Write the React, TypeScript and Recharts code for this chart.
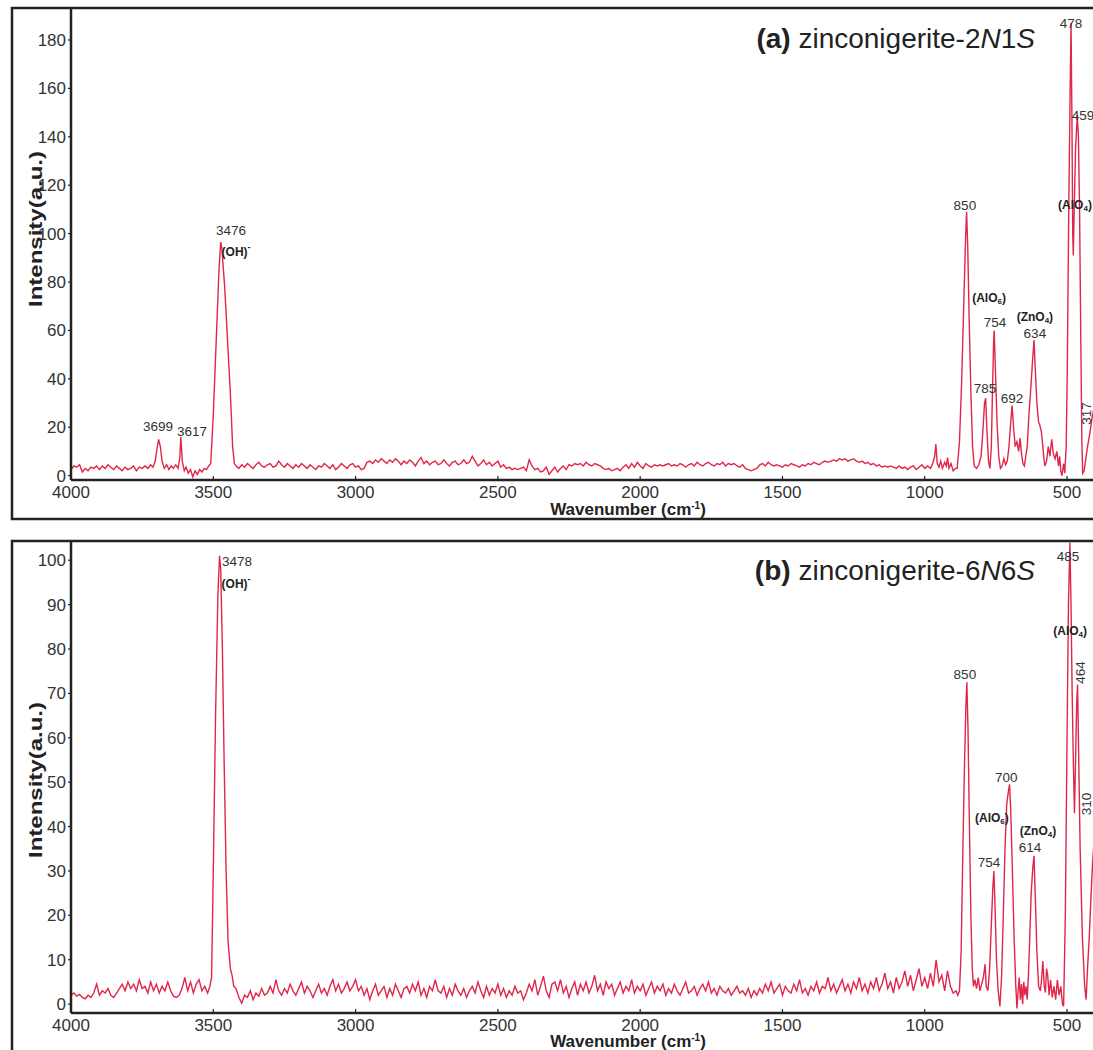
import React from "react";
import { LineChart, Line, XAxis, YAxis, ReferenceDot } from "recharts";

const LINE = "#e0264b";
const INK = "#222";
const FONT = '"Liberation Sans", Arial, sans-serif';

const X_TICKS = [4000, 3500, 3000, 2500, 2000, 1500, 1000, 500];
const Y_TICKS_A = [0, 20, 40, 60, 80, 100, 120, 140, 160, 180];
const Y_TICKS_B = [0, 10, 20, 30, 40, 50, 60, 70, 80, 90, 100];

type Pt = [number, number];

// ---- (a) zinconigerite-2N1S ----
// wavenumber (cm-1), intensity
const edgeA: Pt[] = [
  [4000, 2.5], [3990, 4], [3980, 3.5], [3970, 4.5], [3960, 1.5], [3950, 3], [3940, 2], [3930, 3.5],
  [3920, 3], [3910, 4], [3900, 2.5], [3890, 4], [3880, 3], [3870, 4.5], [3860, 3.5], [3850, 2.5],
  [3840, 4], [3830, 3], [3820, 2], [3810, 3.5], [3800, 2.5], [3790, 3], [3780, 4], [3770, 2],
  [3760, 3.5], [3750, 3], [3740, 4], [3730, 3], [3720, 4.5], [3712, 3.5], [3704, 6], [3698, 11],
  [3692, 15], [3686, 12], [3680, 6], [3672, 3], [3664, 4.5], [3656, 2.5], [3648, 4], [3640, 3],
  [3632, 4.5], [3624, 3], [3618, 7], [3614, 16], [3609, 6], [3602, 2], [3596, 3.5], [3588, 1],
  [3580, 2.5], [3572, -0.5], [3564, 2], [3556, 0.5], [3548, 2.5], [3540, 1.5], [3532, 3], [3524, 2.5],
  [3516, 4], [3509, 5], [3500, 25], [3490, 55], [3480, 85], [3474, 96.5], [3470, 94], [3460, 78],
  [3450, 56], [3440, 34], [3432, 12], [3426, 5],
];

// baseline 3420 -> 1000, one reading every 10 cm-1
const NOISE_A_FROM = 3420;
const noiseA = [
  4, 3, 4.5, 3.5, 5, 4, 3, 4.5, 5.5, 4,
  3.5, 4.5, 5, 3.5, 4, 6, 4.5, 3.5, 5, 4,
  3, 4.5, 3.5, 5, 4, 3, 4.5, 3.5, 2.5, 4,
  3.5, 5, 4, 3, 4.5, 2.5, 3.5, 5, 4, 3,
  4.5, 5, 3.5, 4, 2.5, 3, 5.5, 6, 5, 6.5,
  5.5, 7, 6, 5, 6.5, 5.5, 7, 6, 4.5, 6,
  5, 6.5, 5.5, 4, 6, 7.5, 5, 6, 4.5, 5.5,
  6, 4.5, 5, 6.5, 5, 4, 5.5, 6, 4.5, 5,
  6.5, 5, 5.5, 8, 6, 4, 5, 6.5, 4.5, 5.5,
  4, 5, 6, 3.5, 4.5, 3, 3.5, 2.5, 3, 2.5,
  3, 3.5, 2, 6.5, 4, 2.5, 3, 1.5, 2, 3.5,
  0.5, 2, 3.5, 1.5, 3, 4, 2.5, 4.5, 4, 5,
  4.5, 5, 4, 5.5, 4.5, 4, 5, 4.5, 4, 3,
  2.5, 3, 2, 2.5, 3, 2, 3.5, 4.5, 3, 5,
  3.5, 5.5, 4, 3, 5, 4, 3.5, 4.5, 4, 4.5,
  4, 4.5, 5, 4, 4.5, 4, 5, 4.5, 3.5, 4.5,
  5, 4, 5.5, 4.5, 4, 5, 5.5, 4.5, 4, 5,
  4.5, 5.5, 4, 5, 4.5, 5, 4, 3.5, 4.5, 3,
  2.5, 2, 2.5, 3, 4.5, 5, 4, 5.5, 4.5, 4,
  4.5, 4, 3.5, 4.5, 4, 5, 4.5, 4, 3.5, 4.5,
  4, 5, 4.5, 5.5, 5, 4.5, 5.5, 6, 5.5, 6,
  6.5, 6, 7, 6.5, 7, 6, 6.5, 7, 6, 5.5,
  6, 5, 5.5, 4.5, 5, 4, 4.5, 3.5, 4, 3.5,
  4, 3.5, 3, 4, 3, 3.5, 2.5, 3.5, 4, 2.5,
  3.5, 4.5, 3,
];

const fingerA: Pt[] = [
  [990, 4], [980, 3], [972, 5], [965, 8], [961, 13], [956, 5], [950, 3.5], [944, 6],
  [938, 3], [930, 5.5], [924, 4], [920, 7.5], [915, 3], [908, 5], [900, 2], [892, 3],
  [886, 3], [878, 14], [870, 40], [862, 75], [856, 100], [853, 109], [849, 95], [844, 65],
  [838, 35], [832, 12], [826, 4], [818, 3], [810, 4.5], [802, 8], [796, 18], [790, 30],
  [786, 32], [782, 20], [776, 6], [771, 3], [766, 12], [762, 35], [758, 55], [756, 60],
  [752, 45], [746, 22], [740, 8], [734, 3], [728, 4], [722, 7], [716, 4.5], [710, 6],
  [704, 12], [698, 22], [693, 29], [688, 20], [682, 12], [676, 14], [670, 10], [665, 15.5],
  [660, 9], [655, 5], [650, 4], [645, 8], [640, 12], [634, 25], [628, 35], [622, 46],
  [616, 56], [612, 45], [606, 30], [600, 22], [596, 21], [590, 18], [586, 13], [582, 8],
  [578, 4], [572, 6], [566, 12], [560, 8], [554, 15], [548, 9], [542, 7], [536, 10],
  [530, 4], [526, 8], [522, 2], [518, 0], [512, 5], [508, 1], [503, 12], [499, 45],
  [494, 110], [489, 160], [486, 187], [483, 150], [480, 100], [478, 91], [474, 115], [470, 135],
  [464, 149], [460, 140], [456, 110], [452, 60], [448, 15], [445, 1], [440, 2], [434, 7],
  [428, 12], [422, 16], [418, 19], [412, 24], [405, 28], [400, 32],
];

// label anchors: wavenumber, intensity
const numbersA = [
  { wn: 3694, v: 20.3, text: "3699" },
  { wn: 3575, v: 18.2, text: "3617" },
  { wn: 3438, v: 101.4, text: "3476" },
  { wn: 859, v: 111.7, text: "850" },
  { wn: 753, v: 63.3, text: "754" },
  { wn: 788, v: 36, text: "785" },
  { wn: 693, v: 31.9, text: "692" },
  { wn: 613, v: 58.8, text: "634" },
  { wn: 486, v: 187, text: "478" },
  { wn: 444, v: 149, text: "459" },
];
const uprightA = [{ wn: 430, v: 25.7, text: "317" }];
const groupsA = [
  { wn: 3420, v: 92.3, base: "OH", sub: "", sup: "-" },
  { wn: 774, v: 73.6, base: "AlO", sub: "6", sup: "" },
  { wn: 613, v: 65.4, base: "ZnO", sub: "4", sup: "" },
  { wn: 472, v: 111.7, base: "AlO", sub: "4", sup: "" },
];

// ---- (b) zinconigerite-6N6S ----
const NOISE_B1_FROM = 4000;
const noiseB1 = [
  2, 2.5, 1.8, 2.2, 1.5, 1.2, 2, 1.5, 2.5, 4.5,
  2, 3, 2.5, 3.5, 2, 1.5, 2.5, 3.5, 4.5, 3,
  5, 3.5, 4.5, 3, 5.5, 3.5, 4, 2.5, 5, 3,
  4.5, 2.5, 4, 3, 5, 3, 1.8, 1.5, 2, 3.5,
  6, 3, 5, 2.5, 4.5, 5.5, 3, 4, 2.5,
];

const ohB: Pt[] = [
  [3512, 4], [3506, 6], [3500, 30], [3492, 65], [3484, 92], [3478, 101], [3474, 98], [3468, 80],
  [3462, 55], [3455, 30], [3448, 14], [3440, 8], [3434, 6.5], [3428, 4], [3420, 3.5], [3410, 1.5],
];

const NOISE_B2_FROM = 3400;
const noiseB2 = [
  0.2, 2, 1.5, 3, 1, 2.5, 1.8, 3.5, 2, 2.5,
  4, 2.5, 5.5, 3, 2, 3.5, 2.5, 4.5, 3, 2,
  3.5, 5, 2.5, 4, 3, 1.5, 3, 4.5, 2.5, 3.5,
  2, 4, 5.5, 3, 4.5, 2.5, 3.5, 5, 3, 4,
  5.5, 3, 4, 2, 3.5, 1, 3, 4.5, 2, 3,
  4, 1.5, 3.5, 2, 4.5, 3, 1.5, 3.5, 4, 2.5,
  4.5, 3, 5, 2, 3.5, 1.5, 4, 3, 5.5, 3,
  2.5, 4, 1.5, 3.5, 2, 4.5, 3, 2, 3.5, 1.5,
  3, 4, 2.5, 5, 3, 1.5, 4, 2, 3.5, 2.5,
  4.5, 2, 3.5, 1.5, 3, 2, 4, 2.5, 3, 1,
  2.5, 4.5, 3, 5.5, 2, 4, 6.3, 3, 1.5, 4.5,
  5, 3, 5.5, 2.5, 4, 1.5, 3.5, 5, 2, 4.5,
  3, 5, 2.5, 4, 6.5, 3, 4.5, 2, 5, 3.5,
  4.5, 2, 3.5, 5, 2.5, 4, 3, 5.5, 2.5, 4,
  3, 4.5, 2, 3.5, 5, 2.5, 4, 3, 4.5, 2,
  3.5, 2.5, 4.5, 3, 2, 3.5, 5, 2.5, 3, 4,
  2, 3.5, 4.5, 3, 5, 2.5, 3.5, 2, 4, 3,
  2.5, 3.5, 2, 3, 4, 2.5, 3, 2, 3.5, 1.5,
  3, 2, 3.5, 2.5, 4.5, 3, 5, 2.5, 3.5, 4.5,
  2, 4, 3, 2.5, 4.5, 3, 5.5, 2.5, 3.5, 2,
  4, 3, 5, 2.5, 4, 3.5, 6, 3, 4.5, 2.5,
  4, 5.5, 3, 4.5, 2.5, 5, 3.5, 6, 3, 4.5,
  2.5, 5, 3.5, 6, 3, 4.5, 7, 3.5, 5, 2.5,
  6, 3.5, 5, 7.5, 4, 6.5, 3, 5.5, 8, 4,
  6, 3.5, 7, 4, 10, 5, 6.5, 3, 7.5, 4,
  2.5, 3,
];

const fingerB: Pt[] = [
  [884, 2], [878, 3], [872, 12], [866, 35], [860, 55], [855, 68], [852, 72.5], [848, 62],
  [843, 40], [838, 20], [833, 8], [829, 4], [824, 5.5], [818, 3.5], [812, 6], [806, 3],
  [800, 4.5], [794, 6], [788, 9], [784, 4], [778, 3], [772, 8], [766, 18], [761, 26],
  [757, 30], [753, 22], [748, 10], [742, 3], [736, -0.5], [730, 6], [724, 20], [718, 35],
  [712, 45], [706, 48], [702, 49.5], [698, 44], [692, 30], [686, 15], [680, 4], [676, -1],
  [672, 3], [668, 6], [664, 1], [660, 4.5], [656, 0], [652, 5], [648, 2], [644, 4],
  [640, 1], [636, 6], [631, 15], [626, 25], [620, 31], [616, 33.4], [612, 25], [606, 12],
  [600, 4], [594, 3], [590, 5], [585, 9.7], [580, 4], [576, 2.6], [572, 8], [568, 6.5],
  [563, 2], [558, 5.5], [552, 1.5], [546, 4], [540, 1], [534, 5.5], [528, 2], [522, 4],
  [516, 0], [512, -0.5], [506, 20], [500, 60], [495, 90], [490, 104], [486, 90], [482, 70],
  [478, 55], [474, 43], [470, 55], [466, 68], [463, 72], [460, 60], [454, 35], [446, 15],
  [438, 4], [433, 1], [428, 8], [422, 15], [416, 24], [410, 32], [404, 38], [400, 42],
];

const numbersB = [
  { wn: 3417, v: 99.7, text: "3478" },
  { wn: 859, v: 74.2, text: "850" },
  { wn: 714, v: 51, text: "700" },
  { wn: 774, v: 31.8, text: "754" },
  { wn: 630, v: 35.2, text: "614" },
  { wn: 497, v: 100.8, text: "485" },
];
const uprightB = [
  { wn: 454, v: 74.7, text: "464" },
  { wn: 433, v: 45.1, text: "310" },
];
const groupsB = [
  { wn: 3420, v: 94.7, base: "OH", sub: "", sup: "-" },
  { wn: 764, v: 42, base: "AlO", sub: "6", sup: "" },
  { wn: 602, v: 39, base: "ZnO", sub: "4", sup: "" },
  { wn: 489, v: 84.1, base: "AlO", sub: "4", sup: "" },
];

const onGrid = (from: number, values: number[]): Pt[] => values.map((v, i) => [from - i * 10, v]);
const toRows = (parts: Pt[][]) =>
  parts
    .flat()
    .sort((p, q) => q[0] - p[0])
    .map(([wn, v]) => ({ wn, v }));

const rowsA = toRows([edgeA, onGrid(NOISE_A_FROM, noiseA), fingerA]);
const rowsB = toRows([onGrid(NOISE_B1_FROM, noiseB1), ohB, onGrid(NOISE_B2_FROM, noiseB2), fingerB]);

const XTick = (p: any) => (
  <g>
    <line x1={p.x} x2={p.x} y1={p.y - 6} y2={p.y - 10} stroke={INK} strokeWidth={1.2} />
    <text x={p.x} y={p.y} dy="0.71em" textAnchor="middle" fill="#333" fontSize={17} fontFamily={FONT}>
      {p.payload.value}
    </text>
  </g>
);

function Panel({ top, rows, yDomain, yTicks, numbers, upright, groups }: any) {
  return (
    <div style={{ position: "absolute", left: 0, top, width: 1093, height: 520, overflow: "hidden" }}>
      <LineChart width={1100} height={520} data={rows} margin={{ top: 9, right: 4.5, left: 31, bottom: 0 }}>
        <XAxis
          type="number"
          dataKey="wn"
          domain={[400, 4000]}
          reversed
          allowDataOverflow
          ticks={X_TICKS}
          interval={0}
          height={40}
          tickSize={0}
          tickMargin={6}
          tickLine={false}
          tick={<XTick />}
          axisLine={{ stroke: INK, strokeWidth: 2.5 }}
        />
        <YAxis
          type="number"
          domain={yDomain}
          allowDataOverflow
          ticks={yTicks}
          interval={0}
          width={40}
          tickSize={3}
          tickMargin={2}
          tickLine={{ stroke: INK, strokeWidth: 1.2 }}
          axisLine={{ stroke: INK, strokeWidth: 2.5 }}
          tick={{ fill: "#333", fontSize: 17, fontFamily: FONT }}
        />
        <Line type="linear" dataKey="v" stroke={LINE} strokeWidth={1.4} dot={false} isAnimationActive={false} />
        {numbers.map((n: any) => (
          <ReferenceDot
            key={"n" + n.text}
            x={n.wn}
            y={n.v}
            r={0}
            ifOverflow="visible"
            shape={(p: any) => (
              <text x={p.cx} y={p.cy} textAnchor="middle" dominantBaseline="central" fontSize={13.5} fill="#333" fontFamily={FONT}>
                {n.text}
              </text>
            )}
          />
        ))}
        {upright.map((n: any) => (
          <ReferenceDot
            key={"u" + n.text}
            x={n.wn}
            y={n.v}
            r={0}
            ifOverflow="visible"
            shape={(p: any) => (
              <text
                x={p.cx}
                y={p.cy}
                transform={`rotate(-90 ${p.cx} ${p.cy})`}
                textAnchor="middle"
                dominantBaseline="central"
                fontSize={13.5}
                fill="#333"
                fontFamily={FONT}
              >
                {n.text}
              </text>
            )}
          />
        ))}
        {groups.map((g: any) => (
          <ReferenceDot
            key={"g" + g.wn}
            x={g.wn}
            y={g.v}
            r={0}
            ifOverflow="visible"
            shape={(p: any) => (
              <text x={p.cx} y={p.cy} textAnchor="middle" dominantBaseline="central" fontSize={12} fontWeight="bold" fill={INK} fontFamily={FONT}>
                ({g.base}
                {g.sub ? (
                  <>
                    <tspan fontSize={8} dy={3}>{g.sub}</tspan>
                    <tspan dy={-3}>)</tspan>
                  </>
                ) : (
                  ")"
                )}
                {g.sup ? <tspan fontSize={9} dy={-5}>{g.sup}</tspan> : null}
              </text>
            )}
          />
        ))}
      </LineChart>
    </div>
  );
}

export default function App() {
  return (
    <div style={{ position: "relative", width: 1093, height: 1050, overflow: "hidden", background: "#fff" }}>
      <style>{`body{margin:0}`}</style>
      <Panel top={0} rows={rowsA} yDomain={[-1.8, 192.8]} yTicks={Y_TICKS_A} numbers={numbersA} upright={uprightA} groups={groupsA} />
      <Panel top={533} rows={rowsB} yDomain={[-2.0, 104.1]} yTicks={Y_TICKS_B} numbers={numbersB} upright={uprightB} groups={groupsB} />
      <svg width={1093} height={1050} style={{ position: "absolute", left: 0, top: 0, pointerEvents: "none" }} fontFamily={FONT}>
        <rect x={12} y={8} width={1100} height={511} fill="none" stroke={INK} strokeWidth={2.5} />
        <rect x={12} y={541} width={1100} height={520} fill="none" stroke={INK} strokeWidth={2.5} />
        <text x={1035} y={48} textAnchor="end" fontSize={28} fill={INK}>
          <tspan fontWeight="bold">(a)</tspan> zinconigerite-2<tspan fontStyle="italic">N</tspan>1<tspan fontStyle="italic">S</tspan>
        </text>
        <text x={1035} y={580} textAnchor="end" fontSize={28} fill={INK}>
          <tspan fontWeight="bold">(b)</tspan> zinconigerite-6<tspan fontStyle="italic">N</tspan>6<tspan fontStyle="italic">S</tspan>
        </text>
        <text
          transform="translate(42,229) rotate(-90)"
          textAnchor="middle"
          fontSize={18}
          fontWeight="bold"
          fill={INK}
          textLength={156}
          lengthAdjust="spacingAndGlyphs"
        >
          Intensity(a.u.)
        </text>
        <text
          transform="translate(42,780) rotate(-90)"
          textAnchor="middle"
          fontSize={18}
          fontWeight="bold"
          fill={INK}
          textLength={156}
          lengthAdjust="spacingAndGlyphs"
        >
          Intensity(a.u.)
        </text>
        <text x={628} y={515} textAnchor="middle" fontSize={17} fontWeight="bold" fill={INK}>
          Wavenumber (cm<tspan fontSize={10} dy={-6}>-1</tspan>
          <tspan dy={6}>)</tspan>
        </text>
        <text x={628} y={1047} textAnchor="middle" fontSize={17} fontWeight="bold" fill={INK}>
          Wavenumber (cm<tspan fontSize={10} dy={-6}>-1</tspan>
          <tspan dy={6}>)</tspan>
        </text>
      </svg>
    </div>
  );
}
